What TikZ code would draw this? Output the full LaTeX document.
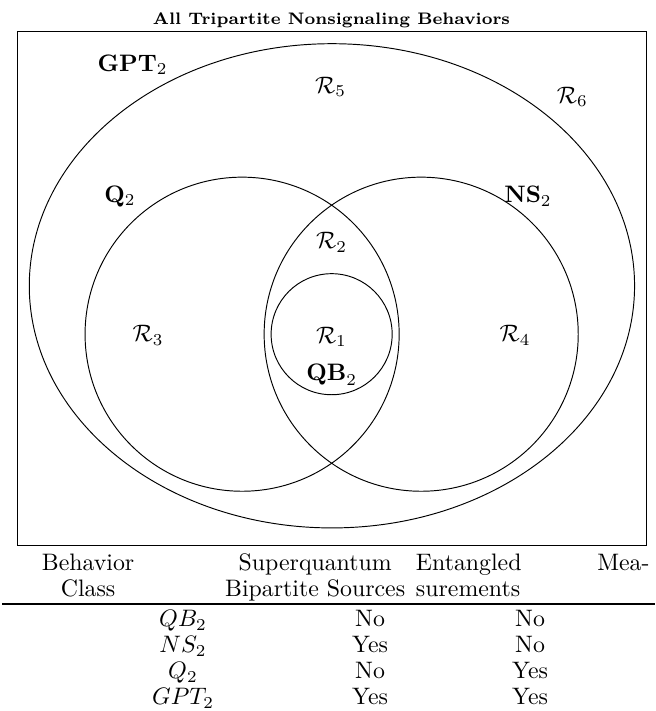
\documentclass[tikz,border=0pt]{standalone}
\usepackage{amsmath}
\tikzset{>=stealth}
\tikzset{val/.style={anchor=base,inner sep=0pt}}

\begin{document}
\begin{tikzpicture}
\useasboundingbox (0,0) rectangle (96.7mm,104.9mm);
\node[anchor=base,font=\scriptsize\bfseries] (title) at (48.9mm,101.25mm) {All Tripartite Nonsignaling Behaviors};
\draw (2.55mm,24.35mm) rectangle (95.45mm,100.2mm);
\draw (48.97mm,62.73mm) ellipse (44.65mm and 35.72mm);
\draw (35.72mm,55.59mm) circle (23.17mm);
\draw (62.14mm,55.59mm) circle (23.17mm);
\draw (48.93mm,55.59mm) circle (8.93mm);
\node (gpt) at (19.57mm,95.35mm) {$\mathbf{GPT}_2$};
\node (r5) at (48.78mm,92.1mm) {$\mathcal{R}_5$};
\node (r6) at (84.43mm,90.63mm) {$\mathcal{R}_6$};
\node (q) at (17.7mm,75.9mm) {$\mathbf{Q}_2$};
\node (ns) at (77.9mm,75.9mm) {$\mathbf{NS}_2$};
\node (r2) at (48.93mm,69.1mm) {$\mathcal{R}_2$};
\node (r3) at (21.85mm,55.4mm) {$\mathcal{R}_3$};
\node (r4) at (76.0mm,55.4mm) {$\mathcal{R}_4$};
\node (r1) at (48.9mm,55.2mm) {$\mathcal{R}_1$};
\node (qb) at (48.93mm,49.6mm) {$\mathbf{QB}_2$};
\node[val] (h1a) at (13mm,20.66mm) {Behavior};
\node[val] (h1b) at (13mm,16.83mm) {Class};
\node[val] (h2a) at (46.5mm,20.66mm) {Superquantum};
\node[val] (h2b) at (46.5mm,16.83mm) {Bipartite Sources};
\node[val,anchor=base west] (h3a) at (61.3mm,20.66mm) {Entangled};
\node[val,anchor=base east] (h3c) at (95.9mm,20.66mm) {Mea-};
\node[val,anchor=base west] (h3b) at (61.3mm,16.83mm) {surements};
\draw[line width=0.8pt] (0.3mm,15.79mm) -- (96.7mm,15.79mm);
\foreach \cls/\sq/\ent [count=\i] in {QB_2/No/No,NS_2/Yes/No,Q_2/No/Yes,GPT_2/Yes/Yes} {
  \node[val] (c\i) at (27mm,16.23mm-\i*3.83mm) {$\cls$};
  \node[val] (s\i) at (54.6mm,16.23mm-\i*3.83mm) {\sq};
  \node[val] (e\i) at (78.2mm,16.23mm-\i*3.83mm) {\ent};
}
\end{tikzpicture}
\end{document}
